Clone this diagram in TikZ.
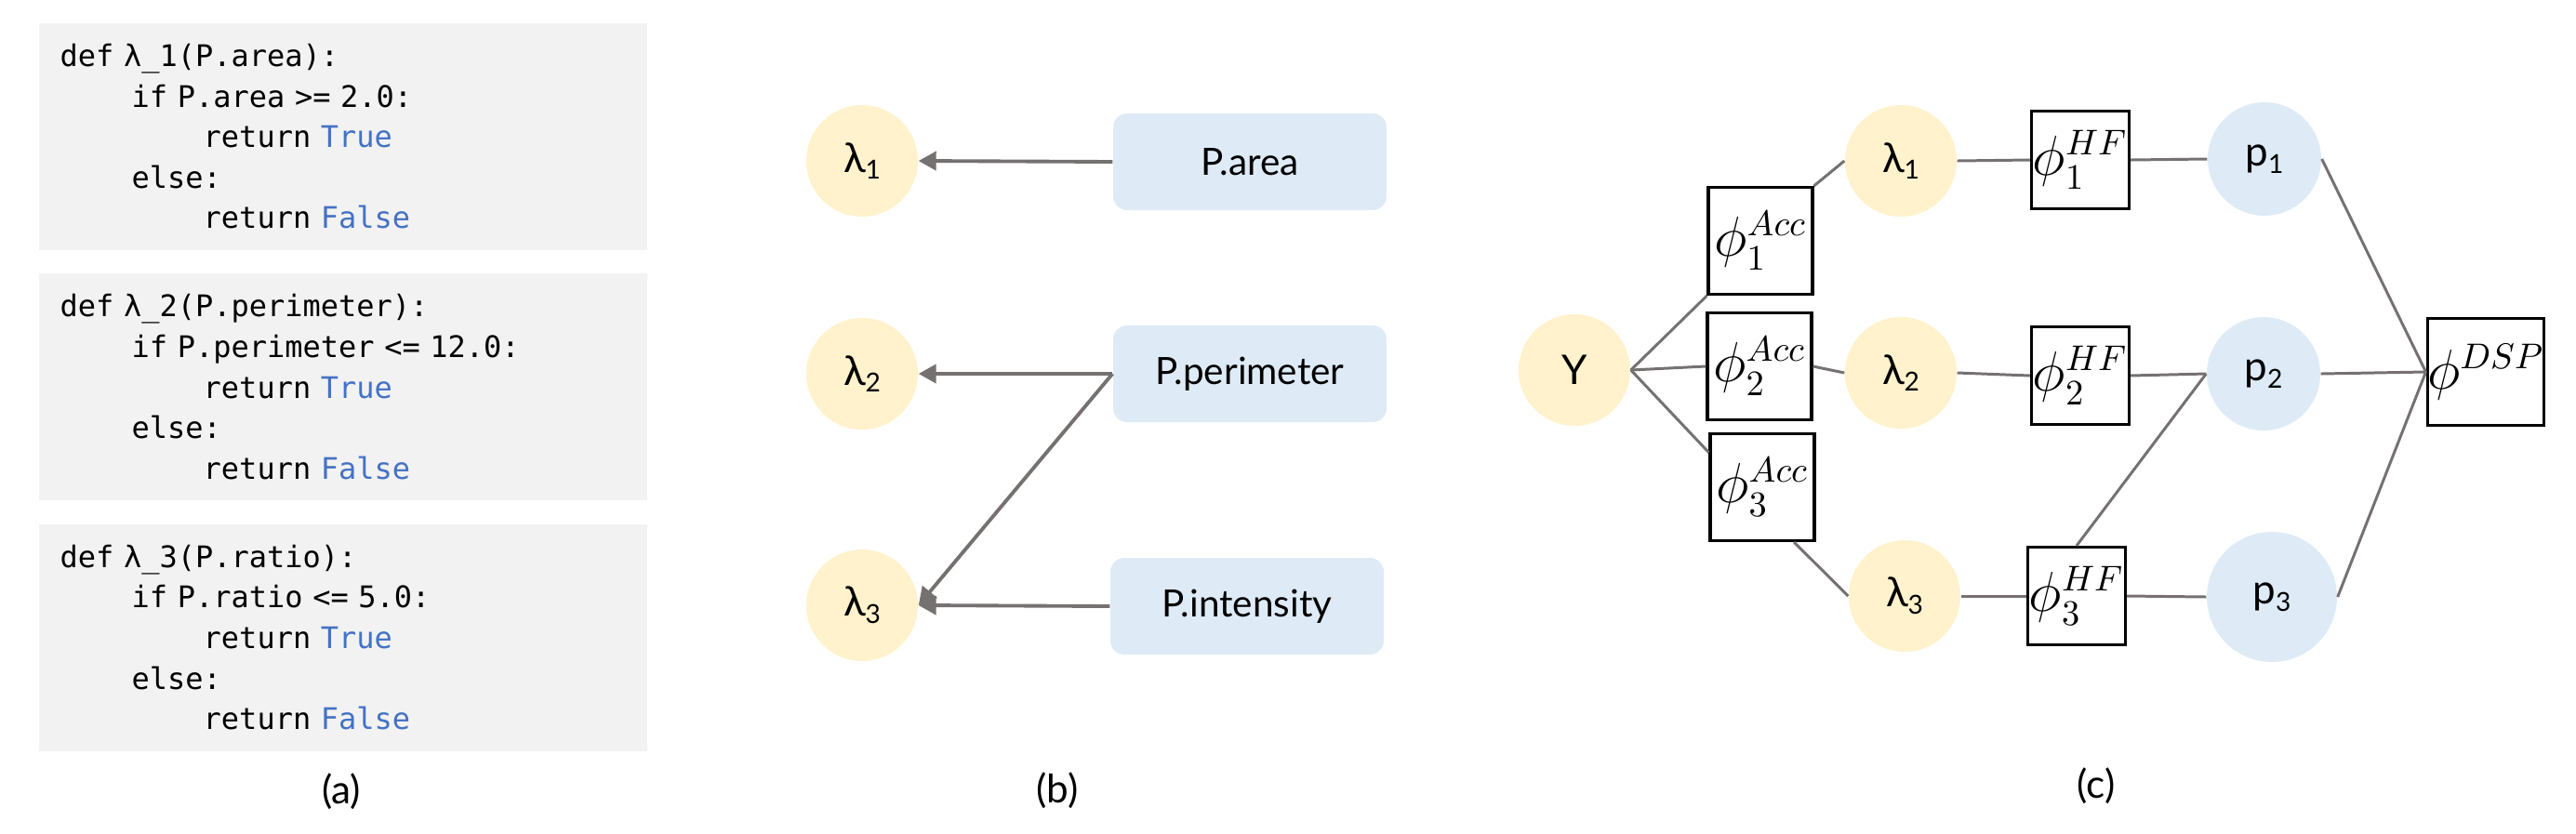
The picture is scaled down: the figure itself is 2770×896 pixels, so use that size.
\documentclass[tikz,border=0pt]{standalone}
\usepackage{fontspec}
\setmainfont{Lato}
\newfontfamily\codefont{DejaVu Sans Mono}
\usetikzlibrary{positioning,arrows.meta}
\definecolor{codegray}{RGB}{242,242,242}
\definecolor{kwblue}{RGB}{68,114,196}
\definecolor{lightyellow}{RGB}{255,242,204}
\definecolor{lightblue}{RGB}{222,235,247}
\definecolor{edgegray}{RGB}{118,113,113}
\newcommand{\ind}{\phantom{xxxx}}
\newcommand{\kw}[1]{\textcolor{kwblue}{#1}}
\newcommand{\sub}[1]{\raisebox{-0.35ex}{\fontsize{8}{8}\selectfont #1}}

\begin{document}
\begin{tikzpicture}[x=0.1mm,y=-0.1mm,
  codebox/.style={fill=codegray,anchor=north west,minimum width=6.54cm,minimum height=2.44cm,text width=6.08cm,inner xsep=0.23cm,inner ysep=0pt,align=left,font=\codefont\fontsize{9.1}{12.4}\selectfont},
  lam/.style={circle,fill=lightyellow,minimum size=1.2cm,inner sep=0pt,font=\fontsize{12.5}{12.5}\selectfont},
  pnode/.style={circle,fill=lightblue,minimum size=1.22cm,inner sep=0pt,font=\fontsize{12.5}{12.5}\selectfont},
  feat/.style={fill=lightblue,rounded corners=0.15cm,minimum width=2.94cm,minimum height=1.04cm,font=\fontsize{11.5}{11.5}\selectfont},
  lf/.style={draw=black,line width=0.9pt,minimum width=1.12cm,minimum height=1.15cm,inner sep=0pt,font=\fontsize{16}{16}\selectfont},
  arr/.style={-{Triangle[length=1.9mm,width=2mm]},line width=1.1pt,draw=edgegray},
  link/.style={line width=0.85pt,draw=edgegray},
  tag/.style={font=\fontsize{12}{12}\selectfont}]
\useasboundingbox (0,0) rectangle (2770,896);
% (a)
\node[codebox] (codeA) at (41,24) {def λ\_1(P.area):\\
\ind if P.area >= 2.0:\\
\ind\ind return \kw{True}\\
\ind else:\\
\ind\ind return \kw{False}};
\node[codebox,below=0.24cm of codeA] (codeB) {def λ\_2(P.perimeter):\\
\ind if P.perimeter <= 12.0:\\
\ind\ind return \kw{True}\\
\ind else:\\
\ind\ind return \kw{False}};
\node[codebox,below=0.24cm of codeB] (codeC) {def λ\_3(P.ratio):\\
\ind if P.ratio <= 5.0:\\
\ind\ind return \kw{True}\\
\ind else:\\
\ind\ind return \kw{False}};
\node[tag] (labA) at (367,851) {(a)};
% (b)
\node[lam] (lamB1) at (927,173) {λ\sub{1}};
\node[lam] (lamB2) at (927,402) {λ\sub{2}};
\node[lam] (lamB3) at (927,651) {λ\sub{3}};
\node[feat] (area) at (1344,174) {P.area};
\node[feat] (peri) at (1344,402) {P.perimeter};
\node[feat] (inten) at (1341,652) {P.intensity};
\draw[arr] (area.west) -- (lamB1.east);
\draw[arr] (peri.west) -- (lamB2.east);
\draw[arr] (peri.west) -- (lamB3.east);
\draw[arr] (inten.west) -- (lamB3.east);
\node[tag] (labB) at (1137,850) {(b)};
% (c)
\node[lam] (y) at (1693,398) {Y};
\node[lf] (acc1) at (1893,259) {$\phi_1^{Acc}$};
\node[lf] (acc2) at (1892,394) {$\phi_2^{Acc}$};
\node[lf] (acc3) at (1895,524) {$\phi_3^{Acc}$};
\node[lam] (lamC1) at (2044,173) {λ\sub{1}};
\node[lam] (lamC2) at (2044,401) {λ\sub{2}};
\node[lam] (lamC3) at (2048,641) {λ\sub{3}};
\node[lf,minimum width=1.05cm,minimum height=1.05cm] (hf1) at (2237,172) {$\phi_1^{HF}$};
\node[lf,minimum width=1.05cm,minimum height=1.05cm] (hf2) at (2237,404) {$\phi_2^{HF}$};
\node[lf,minimum width=1.05cm,minimum height=1.05cm] (hf3) at (2233,641) {$\phi_3^{HF}$};
\node[pnode] (p1) at (2435,171) {p\sub{1}};
\node[pnode] (p2) at (2434,402) {p\sub{2}};
\node[pnode,minimum size=1.4cm] (p3) at (2443,642) {p\sub{3}};
\node[lf,minimum width=1.15cm] (dsp) at (2673,400) {$\phi^{DSP}$};
\draw[link] (y.east) -- (acc1.south west);
\draw[link] (y.east) -- (acc2.west);
\draw[link] (y.east) -- (acc3.147);
\draw[link] (acc1.north east) -- (lamC1.west);
\draw[link] (acc2.east) -- (lamC2.west);
\draw[link] (acc3.-60) -- (lamC3.west);
\draw[link] (lamC1.east) -- (hf1.west);
\draw[link] (lamC2.east) -- (hf2.west);
\draw[link] (lamC3.east) -- (hf3.west);
\draw[link] (hf1.east) -- (p1.west);
\draw[link] (hf2.east) -- (p2.west);
\draw[link] (hf3.east) -- (p3.west);
\draw[link] (hf3.north) -- (p2.west);
\draw[link] (p1.east) -- (dsp.west);
\draw[link] (p2.east) -- (dsp.west);
\draw[link] (p3.east) -- (dsp.west);
\node[tag] (labC) at (2254,845) {(c)};
\end{tikzpicture}
\end{document}
